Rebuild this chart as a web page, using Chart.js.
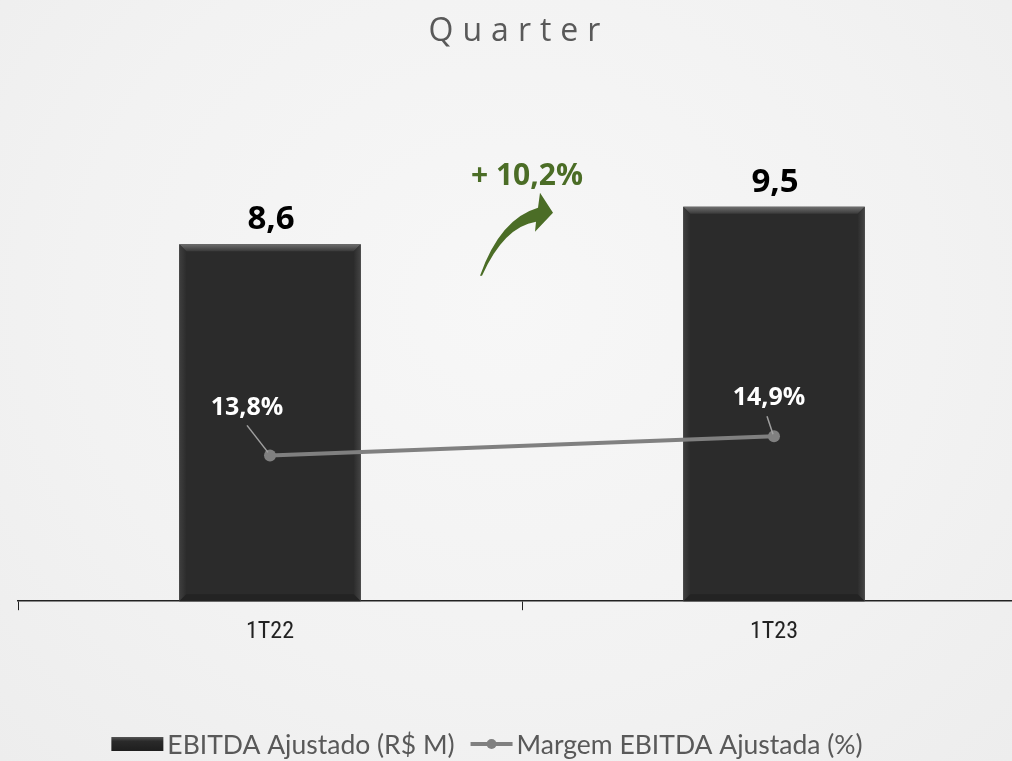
<!DOCTYPE html>
<html>
<head>
<meta charset="utf-8">
<script src="https://cdn.jsdelivr.net/npm/chart.js@4.4.0/dist/chart.umd.min.js"></script>
<style>
  html, body { margin: 0; padding: 0; overflow: hidden; width: 1012px; height: 761px; }
  body { background: radial-gradient(ellipse at 50% 40%, #f7f7f7 0%, #f2f2f2 60%, #ededed 100%); }
  #wrap { position: absolute; left: 0; top: 0; width: 1040px; height: 761px; }
</style>
</head>
<body>
<div id="wrap"><canvas id="c" width="1040" height="761"></canvas></div>
<script>
// ---- data ----
const categories = ['1T22', '1T23'];
const ebitdaValues = [8.6, 9.5];
const marginValues = [13.8, 14.9];
const barLabels = ['8,6', '9,5'];
const marginLabels = ['13,8%', '14,9%'];
const growthLabel = '+ 10,2%';
const titleText = 'Quarter';
const seriesNames = ['EBITDA Ajustado (R$ M)', 'Margem EBITDA Ajustada (%)'];

const NARROW = "'Liberation Sans Narrow', 'Arial Narrow', 'Roboto Condensed', 'Roboto', sans-serif";
const LEG = "'Lato', 'Open Sans', sans-serif";
const GREEN = '#4b6d26';

const decorPlugin = {
  id: 'decor',
  afterDatasetDraw(chart, args) {
    if (args.index !== 0) return;
    const ctx = chart.ctx;
    const meta = chart.getDatasetMeta(0);
    meta.data.forEach(bar => {
      const l = bar.x - bar.width / 2, r = bar.x + bar.width / 2, t = bar.y, b = bar.base;
      const bv = 7;
      ctx.save();
      let g = ctx.createLinearGradient(0, t, 0, t + bv);
      g.addColorStop(0, '#6e6e6e');
      g.addColorStop(1, '#3a3a3a');
      ctx.fillStyle = g;
      ctx.beginPath();
      ctx.moveTo(l, t); ctx.lineTo(r, t); ctx.lineTo(r - bv, t + bv); ctx.lineTo(l + bv, t + bv); ctx.closePath();
      ctx.fill();
      g = ctx.createLinearGradient(l, 0, l + bv, 0);
      g.addColorStop(0, '#3f3f3f'); g.addColorStop(1, '#2c2c2c');
      ctx.fillStyle = g;
      ctx.beginPath();
      ctx.moveTo(l, t); ctx.lineTo(l + bv, t + bv); ctx.lineTo(l + bv, b - bv); ctx.lineTo(l, b); ctx.closePath();
      ctx.fill();
      g = ctx.createLinearGradient(r - bv, 0, r, 0);
      g.addColorStop(0, '#2c2c2c'); g.addColorStop(1, '#444444');
      ctx.fillStyle = g;
      ctx.beginPath();
      ctx.moveTo(r, t); ctx.lineTo(r - bv, t + bv); ctx.lineTo(r - bv, b - bv); ctx.lineTo(r, b); ctx.closePath();
      ctx.fill();
      ctx.fillStyle = '#232323';
      ctx.beginPath();
      ctx.moveTo(l, b); ctx.lineTo(l + bv, b - bv); ctx.lineTo(r - bv, b - bv); ctx.lineTo(r, b); ctx.closePath();
      ctx.fill();
      ctx.restore();
    });
  },
  afterDraw(chart) {
    const ctx = chart.ctx;
    const xs = chart.scales.x;
    ctx.save();
    // title
    ctx.fillStyle = '#595959';
    ctx.font = "32px 'Open Sans', sans-serif";
    ctx.textAlign = 'center';
    ctx.textBaseline = 'alphabetic';
    if ('letterSpacing' in ctx) ctx.letterSpacing = '9px';
    ctx.fillText(titleText, 515 + 4, 41);
    if ('letterSpacing' in ctx) ctx.letterSpacing = '0px';

    // bar value labels
    const barMeta = chart.getDatasetMeta(0);
    ctx.fillStyle = '#000';
    ctx.font = "bold 33px 'Open Sans', sans-serif";
    barMeta.data.forEach((bar, i) => {
      ctx.fillText(barLabels[i], bar.x + 1, bar.y - 15);
    });

    // margin labels with leader lines
    const lineMeta = chart.getDatasetMeta(1);
    ctx.font = "bold 25px 'Open Sans', sans-serif";
    ctx.fillStyle = '#ffffff';
    const offs = [{dx: -23, dy: -40, lx1: -23, ly1: -30, lx2: -2, ly2: -3}, {dx: -5, dy: -31, lx1: -7, ly1: -20, lx2: -1, ly2: -2}];
    lineMeta.data.forEach((pt, i) => {
      const o = offs[i];
      ctx.strokeStyle = '#a0a0a0';
      ctx.lineWidth = 1.5;
      ctx.beginPath();
      ctx.moveTo(pt.x + o.lx1, pt.y + o.ly1);
      ctx.lineTo(pt.x + o.lx2, pt.y + o.ly2);
      ctx.stroke();
      ctx.fillText(marginLabels[i], pt.x + o.dx, pt.y + o.dy);
    });

    // growth arrow between the bars
    const mx = (xs.getPixelForValue(0) + xs.getPixelForValue(1)) / 2;
    const ys = chart.scales.y;
    const topY = ys.getPixelForValue(ebitdaValues[1]);
    ctx.fillStyle = GREEN;
    ctx.font = "bold 30px 'Open Sans', sans-serif";
    ctx.fillText(growthLabel, mx + 5, topY - 22);
    const ax = mx, ay = topY;
    ctx.beginPath();
    ctx.moveTo(ax - 42, ay + 69);
    ctx.quadraticCurveTo(ax - 22, ay + 12, ax + 16, ay + 1);
    ctx.lineTo(ax + 18, ay - 14);
    ctx.lineTo(ax + 31, ay + 6);
    ctx.lineTo(ax + 13, ay + 25);
    ctx.lineTo(ax + 14, ay + 15);
    ctx.quadraticCurveTo(ax - 18, ay + 20, ax - 40, ay + 69);
    ctx.closePath();
    ctx.fill();

    // legend
    ctx.font = "26.5px " + LEG;
    ctx.textBaseline = 'middle';
    ctx.textAlign = 'left';
    const ly = 744;
    const sw1 = 52, gap = 4, sw2 = 42, sep = 16;
    const w1 = ctx.measureText(seriesNames[0]).width;
    const w2 = ctx.measureText(seriesNames[1]).width;
    const total = sw1 + gap + w1 + sep + sw2 + gap + w2;
    let x = 487 - total / 2;
    let g = ctx.createLinearGradient(0, ly - 7, 0, ly + 7);
    g.addColorStop(0, '#555'); g.addColorStop(0.3, '#2a2a2a'); g.addColorStop(1, '#1e1e1e');
    ctx.fillStyle = g;
    ctx.fillRect(x, ly - 7, sw1, 14);
    x += sw1 + gap;
    ctx.fillStyle = '#595959';
    ctx.fillText(seriesNames[0], x, ly + 1);
    x += w1 + sep;
    ctx.strokeStyle = '#808080';
    ctx.lineWidth = 4;
    ctx.beginPath(); ctx.moveTo(x, ly); ctx.lineTo(x + sw2, ly); ctx.stroke();
    ctx.fillStyle = '#808080';
    ctx.beginPath(); ctx.arc(x + sw2 / 2, ly, 5, 0, Math.PI * 2); ctx.fill();
    x += sw2 + gap;
    ctx.fillStyle = '#595959';
    ctx.fillText(seriesNames[1], x, ly + 1);
    ctx.restore();
  }
};

new Chart(document.getElementById('c'), {
  data: {
    labels: categories,
    datasets: [
      {
        type: 'bar',
        label: seriesNames[0],
        data: ebitdaValues,
        backgroundColor: '#2b2b2b',
        borderWidth: 0,
        categoryPercentage: 1,
        barPercentage: 0.36,
        yAxisID: 'y',
        order: 2
      },
      {
        type: 'line',
        label: seriesNames[1],
        data: marginValues,
        borderColor: '#808080',
        backgroundColor: '#808080',
        borderWidth: 4,
        pointRadius: 6,
        pointHoverRadius: 6,
        pointBackgroundColor: '#808080',
        pointBorderWidth: 0,
        yAxisID: 'y2',
        order: 1
      }
    ]
  },
  options: {
    responsive: false,
    animation: false,
    layout: { padding: { left: 18, right: 14, top: 103, bottom: 108 } },
    plugins: { legend: { display: false }, title: { display: false }, tooltip: { enabled: false } },
    scales: {
      x: {
        offset: true,
        grid: { display: true, offset: true, drawOnChartArea: false, tickLength: 9, color: '#222', lineWidth: 1 },
        border: { display: true, color: '#222', width: 1.5 },
        ticks: { color: '#222', font: { family: NARROW, size: 24 }, padding: 7 }
      },
      y: { display: false, min: 0, max: 12 },
      y2: { display: false, min: 5.4, max: 34.1 }
    }
  },
  plugins: [decorPlugin]
});
</script>
</body>
</html>
